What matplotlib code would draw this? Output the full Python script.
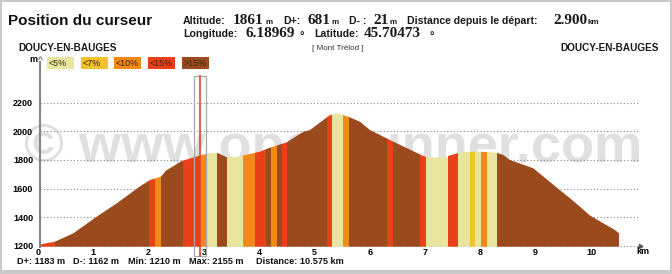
import matplotlib
matplotlib.use('Agg')
import matplotlib.pyplot as plt
from matplotlib.patches import Rectangle, Polygon

# ---------------- data ----------------
dist_km = [0.036, 0.307, 0.638, 1.061, 1.423, 1.844, 2.025, 2.224, 2.315, 2.599,
           2.960, 3.141, 3.260, 3.412, 3.593, 3.834, 4.014, 4.195, 4.497, 4.797,
           4.919, 5.280, 5.430, 5.611, 5.823, 6.004, 6.306, 6.425, 6.967, 7.029,
           7.391, 7.419, 7.600, 7.812, 7.993, 8.295, 8.414, 8.535, 8.957, 9.421,
           9.620, 9.801, 9.982, 10.434, 10.506]
elev_m = [1210, 1230, 1288, 1404, 1497, 1616, 1660, 1684, 1726, 1793,
          1835, 1851, 1847, 1819, 1819, 1842, 1858, 1886, 1923, 1997,
          2009, 2114, 2125, 2102, 2067, 2009, 1951, 1928, 1828, 1819,
          1819, 1828, 1849, 1858, 1858, 1851, 1835, 1800, 1742, 1595,
          1533, 1474, 1412, 1311, 1288]

band_edges_km = [0.036, 0.307, 2.007, 2.116, 2.224, 2.617, 2.929, 3.038, 3.228, 3.409,
                 3.707, 3.933, 4.114, 4.208, 4.322, 4.407, 4.508, 5.226, 5.311, 5.510,
                 5.615, 6.306, 6.425, 6.899, 7.016, 7.414, 7.600, 7.812, 7.902, 8.011,
                 8.114, 8.306, 10.506]
band_class = ['<15%', '>15%', '<15%', '<10%', '>15%', '<15%', '<10%', '<5%', '>15%', '<5%',
              '<10%', '<15%', '>15%', '<10%', '>15%', '<15%', '>15%', '<15%', '<5%', '<10%',
              '>15%', '<15%', '>15%', '<15%', '<5%', '<15%', '<5%', '<7%', '<5%', '<10%',
              '<5%', '>15%']

legend_labels = ['<5%', '<7%', '<10%', '<15%', '>15%']
class_colors = {'<5%': '#e7e59f', '<7%': '#f2c12e', '<10%': '#f28a1a',
                '<15%': '#e8411a', '>15%': '#9b4a1d'}

y_ticks = [1200, 1400, 1600, 1800, 2000, 2200]
x_ticks = [0, 1, 2, 3, 4, 5, 6, 7, 8, 9, 10]

cursor_km = 2.9
header1 = [('Altitude:', 'lab'), ('1861', 'val'), ('m', 'unit'), ('D+:', 'lab'), ('681', 'val'),
           ('m', 'unit'), ('D- :', 'lab'), ('21', 'val'), ('m', 'unit'),
           ('Distance depuis le départ:', 'lab'), ('2.900', 'val'), ('km', 'unit')]
header1_x = [183, 233, 266, 283, 307, 331, 349, 373, 389, 407, 553, 588]
header2 = [('Longitude:', 'lab'), ('6.18969', 'val'), ('°', 'deg'), ('Latitude:', 'lab'),
           ('45.70473', 'val'), ('°', 'deg')]
header2_x = [183, 245, 300, 314, 364, 430]
stats = ['D+: 1183 m', 'D-: 1162 m', 'Min: 1210 m', 'Max: 2155 m', 'Distance: 10.575 km']
stats_x = [17, 73, 128, 189, 256]

# ---------------- figure ----------------
W, H = 672, 274
fig = plt.figure(figsize=(W / 100, H / 100), dpi=100)
fig.patch.set_facecolor('#c9c9c9')
fig.patches.append(Rectangle((2 / W, 4 / H), 668 / W, 268 / H, transform=fig.transFigure,
                             facecolor='white', edgecolor='none', zorder=-5))

def fx(x):
    return x / W

def fy(y):
    return 1 - y / H

SANS = ['Liberation Sans', 'DejaVu Sans']
SERIF = ['Liberation Serif', 'DejaVu Serif']

ax_left, ax_right, ax_top, ax_bot = 40, 640, 62, 246.7
ax = fig.add_axes([fx(ax_left), fy(ax_bot), (ax_right - ax_left) / W, (ax_bot - ax_top) / H])
ax.patch.set_alpha(0)
x0 = (ax_left - 38) / 55.3
x1 = (ax_right - 38) / 55.3
ymin = 1200 + (245.95 - ax_bot) * 6.98
ymax = 1200 + (245.95 - ax_top) * 6.98
ax.set_xlim(x0, x1)
ax.set_ylim(ymin, ymax)

for s in ['top', 'right', 'bottom']:
    ax.spines[s].set_visible(False)
ax.spines['left'].set_color('#858585')
ax.spines['left'].set_linewidth(1.5)
ax.spines['left'].set_zorder(5)

ax.set_xticks([])
ax.set_yticks(y_ticks)
ax.set_yticklabels([str(v) for v in y_ticks], fontfamily=SANS, fontweight='bold', fontsize=6.5)
ax.tick_params(axis='y', length=0, pad=5)
ax.grid(axis='y', linestyle=(0, (1, 2)), color='#8a8a8a', linewidth=0.8, zorder=1)
ax.set_axisbelow(True)

# watermark
ax.text(fx(333), fy(162), '© www.openrunner.com', transform=fig.transFigure, ha='center',
        va='baseline', fontsize=39, fontweight='bold', family=SANS, color='#e0e0e0', zorder=0,
        clip_on=False)

# profile polygon used as clip region
verts = [(dist_km[0], ymin)] + list(zip(dist_km, elev_m)) + [(dist_km[-1], ymin)]
poly = Polygon(verts, closed=True, facecolor='none', edgecolor='none', zorder=2)
ax.add_patch(poly)
for i, c in enumerate(band_class):
    span = ax.axvspan(band_edges_km[i], band_edges_km[i + 1], color=class_colors[c],
                      linewidth=0, zorder=2)
    span.set_clip_path(poly)

# cursor
top_c = 1200 + (245.95 - 76) * 6.98
bot_c = 1200 + (245.95 - 256) * 6.98
cx = cursor_km + 0.025
ax.add_patch(Rectangle((cx - 0.11, bot_c), 0.22, top_c - bot_c, facecolor='none',
                       edgecolor='#a8a8a8', linewidth=0.9, zorder=4, clip_on=False))
ax.plot([cx, cx], [bot_c, top_c], color='#e2452a', linewidth=1.2, zorder=4,
        clip_on=False)

# x tick labels
for k in x_ticks:
    ax.annotate(str(k), xy=(k, 0), xycoords=('data', 'axes fraction'), xytext=(0, -1),
                textcoords='offset points', ha='center', va='top', fontsize=6.5,
                fontweight='bold', family=SANS, annotation_clip=False)

# x-axis arrow head and unit
ax.plot([x1], [1200], marker=(3, 0, -90), markersize=3.5, color='#555555',
        clip_on=False, zorder=3)
fig.text(fx(642.5), fy(252), 'km', ha='center', va='center', fontsize=6.5,
         fontweight='bold', family=SANS)
fig.text(fx(40), fy(61), '^', ha='center', va='center', fontsize=6, fontweight='bold',
         color='#555555', family=SANS)
fig.text(fx(33), fy(60), 'm', ha='center', va='center', fontsize=6.5, fontweight='bold',
         family=SANS)

# legend boxes
box_x = [47, 81, 114, 148, 182]
for lab, bx in zip(legend_labels, box_x):
    fig.patches.append(Rectangle((fx(bx), fy(69)), 27 / W, 12 / H, transform=fig.transFigure,
                                 facecolor=class_colors[lab], edgecolor='none'))
    fig.text(fx(bx + 1.5), fy(63.5), lab, ha='left', va='center', fontsize=6.4,
             family=SANS, color='#3a2410')

# title & headers
fig.text(fx(8), fy(25), 'Position du curseur', ha='left', va='baseline', fontsize=11,
         fontweight='bold', family=SANS, color='#111111')

def draw_piece(txt, kind, x, base):
    if kind == 'lab':
        fig.text(fx(x), fy(base), txt, ha='left', va='baseline', fontsize=7.6,
                 fontweight='bold', family=SANS, color='#1a1a1a')
    elif kind == 'val':
        fig.text(fx(x), fy(base), txt, ha='left', va='baseline', fontsize=11,
                 fontweight='bold', family=SERIF, color='#1a1a1a')
    elif kind == 'unit':
        fig.text(fx(x), fy(base), txt, ha='left', va='baseline', fontsize=5.8,
                 fontweight='bold', family=SANS, color='#1a1a1a')
    else:
        fig.text(fx(x), fy(base + 3), txt, ha='left', va='baseline', fontsize=8,
                 fontweight='bold', family=SANS, color='#1a1a1a')

for (t, k), x in zip(header1, header1_x):
    draw_piece(t, k, x, 24)
for (t, k), x in zip(header2, header2_x):
    draw_piece(t, k, x, 37)

fig.text(fx(18), fy(48), 'DOUCY-EN-BAUGES', ha='left', va='center', fontsize=7.2,
         fontweight='bold', family=SANS, color='#1a1a1a')
fig.text(fx(659), fy(48), 'DOUCY-EN-BAUGES', ha='right', va='center', fontsize=7.2,
         fontweight='bold', family=SANS, color='#1a1a1a')
fig.text(fx(338), fy(48), '[ Mont Trélod ]', ha='center', va='center', fontsize=5.8,
         family=SANS, color='#333333')

for t, x in zip(stats, stats_x):
    fig.text(fx(x), fy(264), t, ha='left', va='baseline', fontsize=6.6, fontweight='bold',
             family=SANS, color='#111111')

fig.savefig('out.png', dpi=100)
